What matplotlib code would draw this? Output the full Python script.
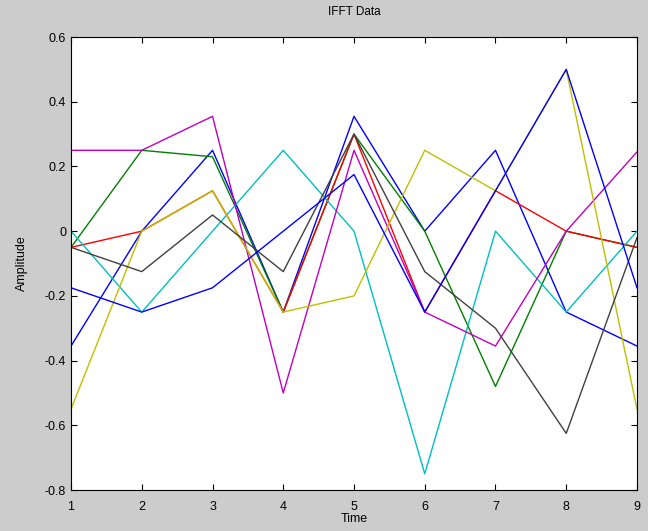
import numpy as np
import matplotlib.pyplot as plt

plt.rcParams['font.family'] = ['Liberation Sans', 'DejaVu Sans']

# time samples
t = [1, 2, 3, 4, 5, 6, 7, 8, 9]

# ifft data, one list per column (matlab colour order)
blue1   = [-0.355, 0.0, 0.25, -0.25, 0.355, 0.0, 0.25, -0.25, -0.355]
green   = [-0.05, 0.25, 0.23, -0.25, 0.30, 0.0, -0.48, 0.0, -0.05]
red     = [-0.05, 0.0, 0.125, -0.25, 0.30, -0.25, 0.125, 0.0, -0.05]
cyan    = [0.0, -0.25, 0.0, 0.25, 0.0, -0.75, 0.0, -0.25, 0.0]
magenta = [0.25, 0.25, 0.355, -0.5, 0.25, -0.25, -0.355, 0.0, 0.245]
yellow  = [-0.55, 0.0, 0.125, -0.25, -0.2, 0.25, 0.125, 0.5, -0.55]
gray    = [-0.05, -0.125, 0.05, -0.125, 0.30, -0.125, -0.30, -0.625, -0.02]
blue2   = [-0.175, -0.25, -0.175, 0.0, 0.175, -0.25, 0.125, 0.5, -0.175]

series = [blue1, green, red, cyan, magenta, yellow, gray, blue2]
colors = [(0, 0, 1), (0, 0.5, 0), (1, 0, 0), (0, 0.75, 0.75),
          (0.75, 0, 0.75), (0.75, 0.75, 0), (0.25, 0.25, 0.25), (0, 0, 1)]

fig = plt.figure(figsize=(6.48, 5.31), dpi=100, facecolor=(0.8, 0.8, 0.8))
ax = fig.add_axes([0.1096, 0.0772, 0.8734, 0.853])

for y, c in zip(series, colors):
    ax.plot(t, y, color=c, lw=1.0)

ax.set_xlim(1, 9)
ax.set_ylim(-0.8, 0.6)
ax.set_xticks(range(1, 10))
ax.set_yticks(np.arange(-0.8, 0.61, 0.2))
ax.set_yticklabels(['-0.8', '-0.6', '-0.4', '-0.2', '0', '0.2', '0.4', '0.6'])
ax.tick_params(direction='in', top=True, right=True, labelsize=9, length=4)
ax.tick_params(axis='x', pad=8)
ax.set_title('IFFT Data', fontsize=8.5, pad=16)
ax.set_xlabel('Time', fontsize=9, labelpad=0)
ax.set_ylabel('Amplitude', fontsize=9, labelpad=12)

plt.savefig('out.png', dpi=100, facecolor=fig.get_facecolor())
